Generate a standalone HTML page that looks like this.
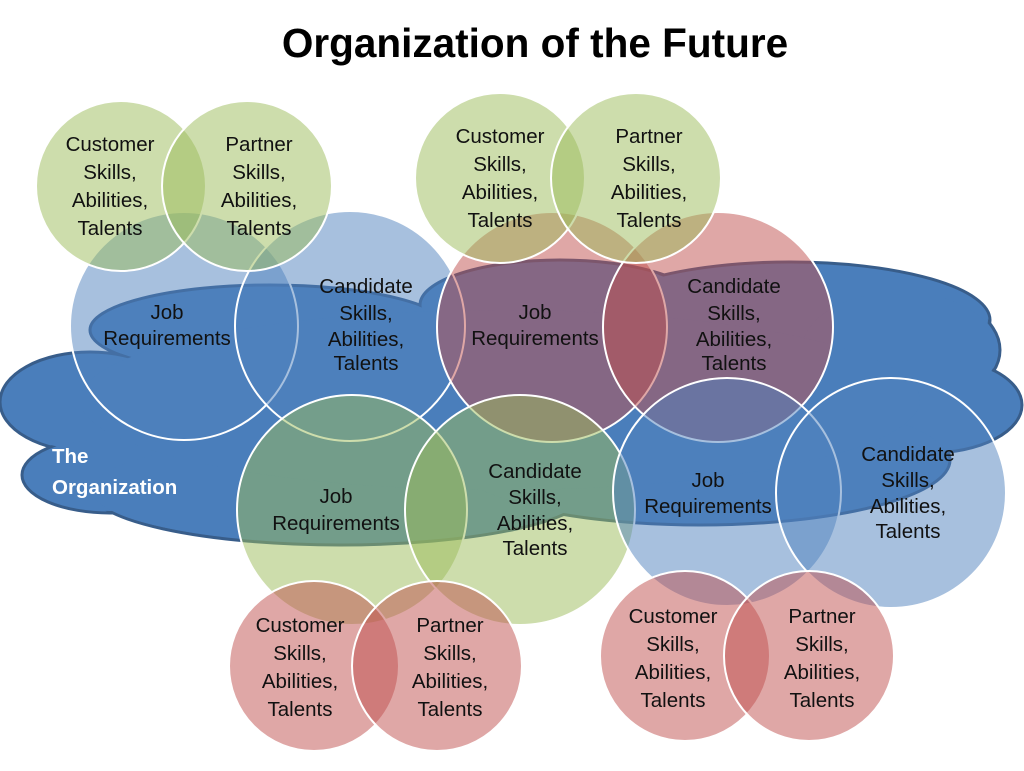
<!DOCTYPE html>
<html><head><meta charset="utf-8"><style>
html,body{margin:0;padding:0;background:#fff;}
svg{display:block;}
text{font-family:"Liberation Sans",sans-serif;font-size:20.5px;fill:#111;text-anchor:middle;}
</style></head><body>
<svg width="1024" height="771" viewBox="0 0 1024 771">
<text x="535" y="57" style="font-size:40.5px;font-weight:bold;fill:#000">Organization of the Future</text>
<g fill="#4a7ebb" stroke="#385d8a" stroke-width="3">
<ellipse cx="270" cy="330" rx="180" ry="45"/>
<ellipse cx="90" cy="402" rx="90" ry="50"/>
<ellipse cx="110" cy="475" rx="88" ry="38"/>
<ellipse cx="340" cy="490" rx="250" ry="55"/>
<ellipse cx="560" cy="305" rx="140" ry="45"/>
<ellipse cx="790" cy="320" rx="200" ry="58"/>
<ellipse cx="900" cy="350" rx="100" ry="60"/>
<ellipse cx="930" cy="405" rx="92" ry="48"/>
<ellipse cx="700" cy="460" rx="250" ry="65"/>
</g>
<g fill="#4a7ebb">
<ellipse cx="270" cy="330" rx="178" ry="43"/>
<ellipse cx="90" cy="402" rx="88" ry="48"/>
<ellipse cx="110" cy="475" rx="86" ry="36"/>
<ellipse cx="340" cy="490" rx="248" ry="53"/>
<ellipse cx="560" cy="305" rx="138" ry="43"/>
<ellipse cx="790" cy="320" rx="198" ry="56"/>
<ellipse cx="900" cy="350" rx="98" ry="58"/>
<ellipse cx="930" cy="405" rx="90" ry="46"/>
<ellipse cx="700" cy="460" rx="248" ry="63"/>
<ellipse cx="500" cy="400" rx="420" ry="90"/>
</g>
<g stroke="#fff" stroke-width="2">
<circle cx="184" cy="326" r="114" fill="rgba(79,129,189,0.5)"/>
<circle cx="350" cy="326" r="115" fill="rgba(79,129,189,0.5)"/>
<circle cx="121" cy="186" r="85" fill="rgba(155,187,89,0.5)"/>
<circle cx="247" cy="186" r="85" fill="rgba(155,187,89,0.5)"/>
<circle cx="552" cy="327" r="115" fill="rgba(192,80,77,0.5)"/>
<circle cx="718" cy="327" r="115" fill="rgba(192,80,77,0.5)"/>
<circle cx="500" cy="178" r="85" fill="rgba(155,187,89,0.5)"/>
<circle cx="636" cy="178" r="85" fill="rgba(155,187,89,0.5)"/>
<circle cx="352" cy="510" r="115" fill="rgba(155,187,89,0.5)"/>
<circle cx="520" cy="510" r="115" fill="rgba(155,187,89,0.5)"/>
<circle cx="314" cy="666" r="85" fill="rgba(192,80,77,0.5)"/>
<circle cx="437" cy="666" r="85" fill="rgba(192,80,77,0.5)"/>
<circle cx="727" cy="492" r="114" fill="rgba(79,129,189,0.5)"/>
<circle cx="891" cy="493" r="115" fill="rgba(79,129,189,0.5)"/>
<circle cx="685" cy="656" r="85" fill="rgba(192,80,77,0.5)"/>
<circle cx="809" cy="656" r="85" fill="rgba(192,80,77,0.5)"/>
</g>
<text x="52" y="463" style="font-weight:bold;fill:#fff;text-anchor:start">The</text>
<text x="52" y="494" style="font-weight:bold;fill:#fff;text-anchor:start">Organization</text>
<g>
<text x="110" y="151">Customer</text><text x="110" y="179">Skills,</text><text x="110" y="207">Abilities,</text><text x="110" y="235">Talents</text>
<text x="259" y="151">Partner</text><text x="259" y="179">Skills,</text><text x="259" y="207">Abilities,</text><text x="259" y="235">Talents</text>
<text x="500" y="143">Customer</text><text x="500" y="171">Skills,</text><text x="500" y="199">Abilities,</text><text x="500" y="227">Talents</text>
<text x="649" y="143">Partner</text><text x="649" y="171">Skills,</text><text x="649" y="199">Abilities,</text><text x="649" y="227">Talents</text>
<text x="167" y="319">Job</text><text x="167" y="345">Requirements</text>
<text x="366" y="293">Candidate</text><text x="366" y="320">Skills,</text><text x="366" y="346">Abilities,</text><text x="366" y="370">Talents</text>
<text x="535" y="319">Job</text><text x="535" y="345">Requirements</text>
<text x="734" y="293">Candidate</text><text x="734" y="320">Skills,</text><text x="734" y="346">Abilities,</text><text x="734" y="370">Talents</text>
<text x="336" y="503">Job</text><text x="336" y="530">Requirements</text>
<text x="535" y="478">Candidate</text><text x="535" y="504">Skills,</text><text x="535" y="530">Abilities,</text><text x="535" y="555">Talents</text>
<text x="708" y="487">Job</text><text x="708" y="513">Requirements</text>
<text x="908" y="461">Candidate</text><text x="908" y="487">Skills,</text><text x="908" y="513">Abilities,</text><text x="908" y="538">Talents</text>
<text x="300" y="632">Customer</text><text x="300" y="660">Skills,</text><text x="300" y="688">Abilities,</text><text x="300" y="716">Talents</text>
<text x="450" y="632">Partner</text><text x="450" y="660">Skills,</text><text x="450" y="688">Abilities,</text><text x="450" y="716">Talents</text>
<text x="673" y="623">Customer</text><text x="673" y="651">Skills,</text><text x="673" y="679">Abilities,</text><text x="673" y="707">Talents</text>
<text x="822" y="623">Partner</text><text x="822" y="651">Skills,</text><text x="822" y="679">Abilities,</text><text x="822" y="707">Talents</text>
</g>
</svg>
</body></html>
